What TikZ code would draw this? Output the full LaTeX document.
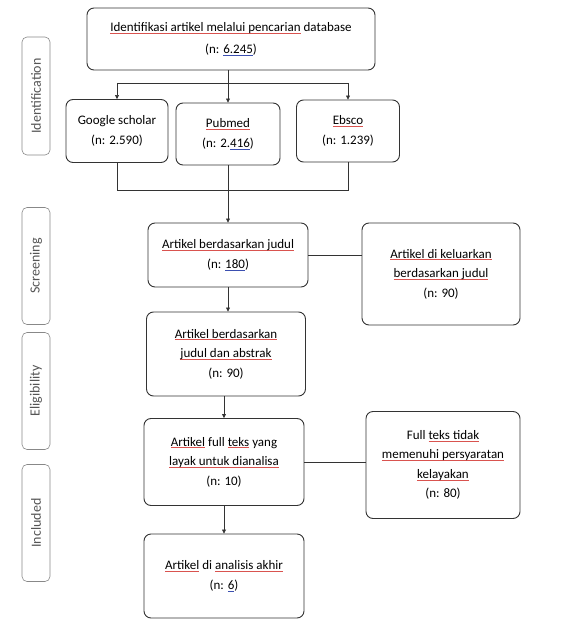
\documentclass[tikz,border=0pt]{standalone}
\usepackage{fontspec}
\setmainfont{Carlito}
\usetikzlibrary{arrows.meta}
\definecolor{edge}{HTML}{333333}
\definecolor{phase}{HTML}{555555}
\definecolor{sperr}{HTML}{d9534f}
\definecolor{numul}{HTML}{3b4fb0}
% coloured underlines as in the scanned figure
\newsavebox\ulbox
\newcommand\ru[1]{\sbox\ulbox{#1}\rlap{\textcolor{sperr}{\rule[-0.3ex]{\wd\ulbox}{0.5pt}}}\usebox\ulbox}
\newcommand\bu[1]{\sbox\ulbox{#1}\rlap{\textcolor{numul}{\rule[-0.3ex]{\wd\ulbox}{0.5pt}}}\usebox\ulbox}

\begin{document}
\begin{tikzpicture}[x=1pt, y=-1pt,
  box/.style={draw=edge, rounded corners=7pt, line width=0.9pt, align=center,
    font=\fontsize{13}{19.5}\selectfont, inner sep=2pt},
  phasebox/.style={draw=phase!70, rounded corners=5pt, line width=0.6pt,
    minimum width=28pt, minimum height=117pt, font=\fontsize{14}{15}\selectfont\color{phase}},
  arr/.style={-{Triangle[length=4pt,width=4pt]}, draw=edge, line width=0.7pt},
  conn/.style={draw=edge, line width=0.7pt}]
  \useasboundingbox (0,0) rectangle (579,620);
  % Phases
  \node[phasebox, minimum height=118pt] (ident) at (36,96) {\rotatebox{90}{Identification}};
  \node[phasebox] (scr) at (36,266) {\rotatebox{90}{Screening}};
  \node[phasebox] (elg) at (36,391) {\rotatebox{90}{Eligibility}};
  \node[phasebox] (inc) at (36,523) {\rotatebox{90}{Included}};
  % Identification
  \node[box, minimum width=288pt, minimum height=62pt] (search) at (231,39)
    {\ru{Identifikasi artikel melalui pencarian} database\\[3pt](n: \bu{6.245})};
  \node[box, minimum width=102pt, minimum height=63pt] (google) at (117,131)
    {Google scholar\\(n: 2.590)};
  \node[box, minimum width=104pt, minimum height=62pt] (pubmed) at (228,134)
    {\ru{Pubmed}\\(n: 2.\bu{416})};
  \node[box, minimum width=103pt, minimum height=62pt] (ebsco) at (348,131)
    {\ru{Ebsco}\\(n: 1.239)};
  % Screening
  \node[box, minimum width=160pt, minimum height=64pt] (byTitle) at (228,255)
    {\ru{Artikel berdasarkan judul}\\(n: \bu{180})};
  \node[box, minimum width=158pt, minimum height=102pt] (outTitle) at (441,274)
    {\ru{Artikel di keluarkan}\\\ru{berdasarkan judul}\\(n: 90)};
  % Eligibility
  \node[box, minimum width=159pt, minimum height=84pt] (byAbstract) at (226,354)
    {\ru{Artikel berdasarkan}\\\ru{judul dan abstrak}\\(n: 90)};
  \node[box, minimum width=160pt, minimum height=87pt] (fullText) at (224,462)
    {\ru{Artikel} full \ru{teks} yang\\\ru{layak untuk dianalisa}\\(n: 10)};
  \node[box, minimum width=154pt, minimum height=107pt] (outFull) at (443,465)
    {Full \ru{teks tidak}\\\ru{memenuhi persyaratan}\\\ru{kelayakan}\\(n: 80)};
  % Included
  \node[box, minimum width=160pt, minimum height=84pt] (final) at (224,576)
    {\ru{Artikel} di \ru{analisis akhir}\\(n: \bu{6})};
  % Connectors
  \coordinate (split) at (228,83);
  \coordinate (splitL) at (117,83);
  \coordinate (splitR) at (348,83);
  \coordinate (mergeL) at (117,190);
  \coordinate (mergeR) at (348,190);
  \draw[conn] (search.south -| split) -- (split);
  \draw[conn] (splitL) -- (splitR);
  \draw[arr] (splitL) -- (google.north);
  \draw[arr] (split) -- (pubmed.north);
  \draw[arr] (splitR) -- (ebsco.north);
  \draw[conn] (google.south) -- (mergeL) -- (mergeR) -- (ebsco.south);
  \draw[arr] (pubmed.south) -- (byTitle.north);
  \draw[conn] (byTitle.east) -- (outTitle.west |- byTitle.east);
  \draw[arr] (byTitle.south -| 228,0) -- (byAbstract.north -| 228,0);
  \draw[arr] (byAbstract.south -| 224,0) -- (fullText.north);
  \draw[conn] (fullText.east) -- (outFull.west |- fullText.east);
  \draw[arr] (fullText.south) -- (final.north);
\end{tikzpicture}
\end{document}
